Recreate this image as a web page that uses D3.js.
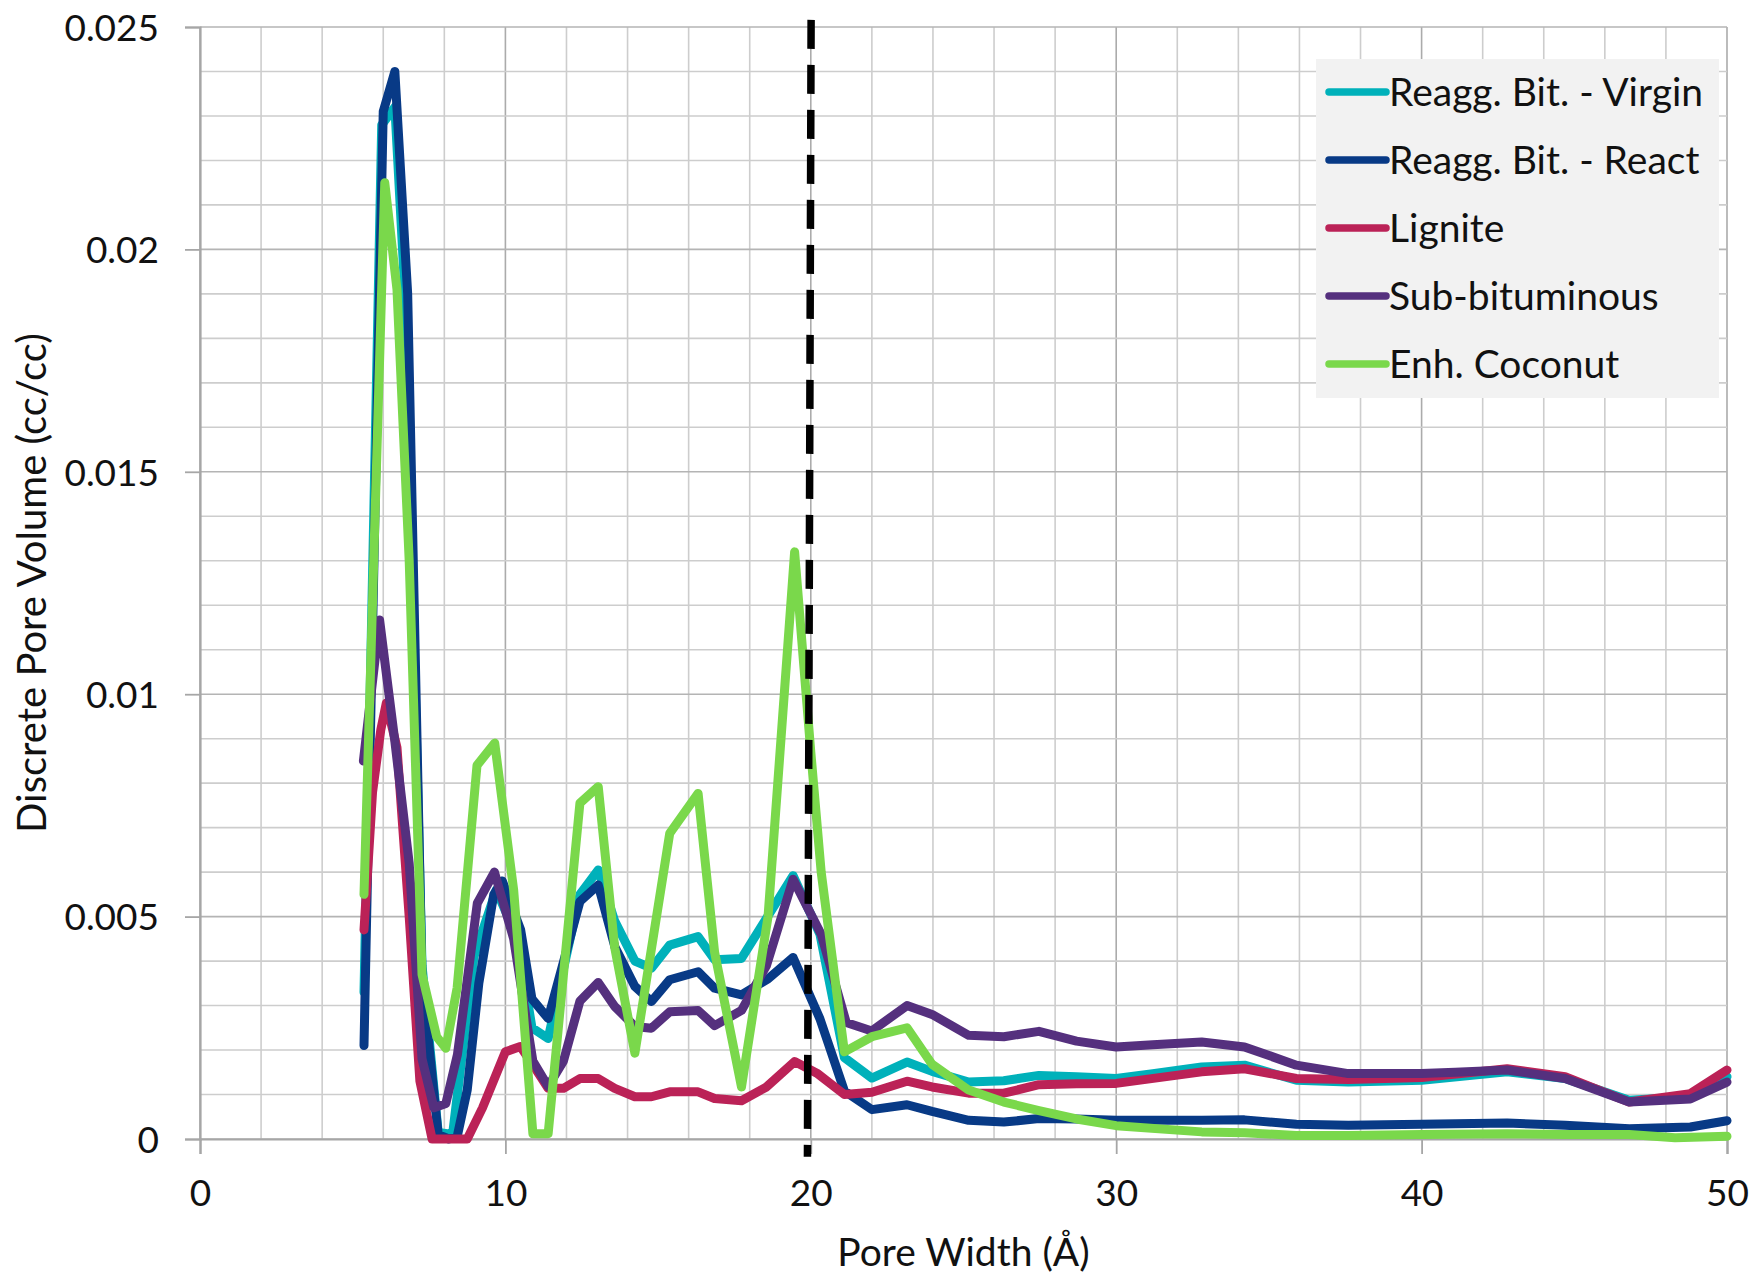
<!DOCTYPE html>
<html>
<head>
<meta charset="utf-8">
<script src="https://cdn.jsdelivr.net/npm/d3@7"></script>
<style>
  html, body { margin: 0; padding: 0; background: #ffffff; }
  svg text { font-family: Lato, "Open Sans", "Noto Sans", sans-serif; fill: #111111; }
</style>
</head>
<body>
<svg id="chart" width="1752" height="1277"></svg>
<script>
// Discrete pore volume (cc/cc) against pore width (Å), one [width, volume] pair per point.
const reaggVirgin = [
  [5.37,0.0033],[5.95,0.0228],[6.38,0.0232],[6.75,0.0185],[7.27,0.0039],[7.8,0.00015],
  [8.27,0.0001],[8.97,0.0041],[9.7,0.0056],[10.4,0.0045],[10.87,0.0025],[11.4,0.00226],
  [12.44,0.0055],[13.04,0.00605],[13.58,0.0049],[14.24,0.004],[14.78,0.00384],[15.38,0.00436],
  [16.31,0.00455],[16.85,0.00403],[17.73,0.00406],[19.42,0.00592],[20.3,0.0046],[21.1,0.00183],
  [22.0,0.00137],[23.15,0.00173],[23.97,0.00152],[25.17,0.00128],[26.32,0.00131],[27.47,0.00143],
  [28.7,0.0014],[30.0,0.00136],[31.2,0.00147],[32.8,0.00162],[34.2,0.00166],[35.9,0.00132],
  [37.6,0.00128],[40.0,0.00132],[42.8,0.00151],[44.7,0.00136],[46.8,0.00087],[48.8,0.00095],
  [50.0,0.0014]
];
const reaggReact = [
  [5.37,0.0021],[6.0,0.0231],[6.38,0.024],[6.8,0.019],[7.27,0.0036],[7.8,0.0001],
  [8.15,0.0],[8.42,0.00005],[8.75,0.0011],[9.13,0.0035],[9.62,0.0055],[9.9,0.0058],
  [10.5,0.0047],[10.87,0.00315],[11.4,0.00271],[12.44,0.00534],[13.04,0.00571],[13.58,0.00433],
  [14.24,0.00343],[14.78,0.00309],[15.38,0.00358],[16.31,0.00376],[16.85,0.00339],[17.73,0.00324],
  [18.6,0.0036],[19.42,0.00408],[20.3,0.0027],[21.1,0.00108],[22.0,0.00066],[23.15,0.00077],
  [23.97,0.00062],[25.17,0.00042],[26.32,0.00038],[27.47,0.00046],[28.7,0.00045],[30.0,0.00042],
  [32.8,0.00042],[34.2,0.00043],[35.9,0.00033],[37.6,0.00031],[40.0,0.00033],[42.8,0.00036],
  [44.7,0.00031],[46.8,0.00023],[48.8,0.00027],[50.0,0.00041]
];
const lignite = [
  [5.37,0.0047],[5.65,0.0078],[5.92,0.0092],[6.1,0.0098],[6.45,0.0088],[6.85,0.005],
  [7.2,0.0013],[7.6,0.0],[8.75,0.0],[9.25,0.0007],[10.0,0.00196],[10.49,0.00208],
  [10.87,0.0017],[11.4,0.00114],[11.9,0.00114],[12.44,0.00136],[13.04,0.00136],[13.58,0.00114],
  [14.24,0.00095],[14.78,0.00095],[15.38,0.00106],[16.31,0.00106],[16.85,0.00091],[17.73,0.00086],
  [18.55,0.00117],[19.47,0.00174],[20.2,0.00148],[21.1,0.001],[22.0,0.00105],[23.15,0.0013],
  [23.97,0.00117],[25.17,0.00103],[26.32,0.00103],[27.47,0.00122],[28.7,0.00124],[30.0,0.00125],
  [32.8,0.00151],[34.2,0.00158],[35.9,0.00136],[37.6,0.00134],[40.0,0.00138],[42.8,0.00158],
  [44.7,0.0014],[46.8,0.00083],[48.8,0.00102],[50.0,0.00155]
];
const subBituminous = [
  [5.35,0.0085],[5.88,0.01167],[6.37,0.009],[6.85,0.0062],[7.27,0.0018],[7.66,0.0007],
  [8.05,0.0008],[8.43,0.0019],[9.08,0.0053],[9.64,0.006],[10.27,0.0045],[10.9,0.00175],
  [11.4,0.00118],[11.9,0.00175],[12.44,0.0031],[13.04,0.00352],[13.58,0.00298],[14.24,0.00253],
  [14.78,0.00249],[15.38,0.00286],[16.31,0.00289],[16.85,0.00255],[17.73,0.00289],[18.55,0.0039],
  [19.42,0.00584],[20.34,0.0046],[21.16,0.00262],[22.0,0.00243],[23.15,0.003],[23.97,0.0028],
  [25.17,0.00233],[26.32,0.0023],[27.47,0.00242],[28.7,0.0022],[30.0,0.00207],[31.2,0.00212],
  [32.8,0.00218],[34.2,0.00207],[35.9,0.00166],[37.6,0.00147],[40.0,0.00147],[41.1,0.0015],
  [42.8,0.00155],[44.7,0.00136],[46.8,0.00083],[48.8,0.0009],[50.0,0.00128]
];
const enhCoconut = [
  [5.37,0.0055],[6.05,0.0215],[6.45,0.0191],[6.85,0.013],[7.27,0.0037],[7.75,0.0023],
  [8.05,0.00204],[8.42,0.0034],[9.07,0.0084],[9.65,0.0089],[10.27,0.0056],[10.9,0.00012],
  [11.4,0.00012],[12.44,0.00755],[13.04,0.00792],[13.58,0.0043],[14.24,0.00193],[15.38,0.00687],
  [16.31,0.00777],[16.85,0.0042],[17.73,0.00117],[18.6,0.005],[19.47,0.0132],[20.0,0.0087],
  [20.34,0.006],[21.1,0.00196],[22.0,0.0023],[23.15,0.0025],[23.97,0.00168],[25.17,0.0011],
  [26.32,0.00083],[27.47,0.00064],[28.7,0.00045],[30.0,0.0003],[32.8,0.00016],[34.2,0.00014],
  [35.9,0.00008],[37.6,0.00008],[40.0,0.0001],[42.8,0.00012],[44.7,0.0001],[46.8,0.0001],
  [48.3,0.00003],[50.0,0.00006]
];

const seriesNames  = ["Reagg. Bit. - Virgin", "Reagg. Bit. - React", "Lignite", "Sub-bituminous", "Enh. Coconut"];
const seriesColors = ["#00b1ba", "#083a86", "#bb2257", "#55307e", "#7ad84b"];
const seriesData   = [reaggVirgin, reaggReact, lignite, subBituminous, enhCoconut];

const xTicks = [0, 10, 20, 30, 40, 50];
const yTicks = [0, 0.005, 0.01, 0.015, 0.02, 0.025];
const xMinorStep = 2;
const yMinorStep = 0.001;

// 20 Å boundary marker: [width, volume] at its two ends
const boundaryLine = [[20.01, 0.02516], [19.89, -0.0004]];

const xTitle = "Pore Width (Å)";
const yTitle = "Discrete Pore Volume (cc/cc)";

// ---- drawing ----
const svg = d3.select("#chart");
const x = d3.scaleLinear().domain([0, 50]).range([200, 1727]);
const y = d3.scaleLinear().domain([0, 0.025]).range([1139, 27]);

// grid
const grid = svg.append("g");
const xMinor = d3.range(0, 50 + 1e-9, xMinorStep);
const yMinor = d3.range(0, 0.025 + 1e-9, yMinorStep);
grid.selectAll("line.gx").data(xMinor).join("line")
  .attr("x1", d => x(d)).attr("x2", d => x(d))
  .attr("y1", y(0)).attr("y2", y(0.025))
  .attr("stroke", d => (Math.round(d) % 10 === 0) ? "#ababab" : "#cdcdcd")
  .attr("stroke-width", 1.6);
grid.selectAll("line.gy").data(yMinor).join("line")
  .attr("x1", x(0)).attr("x2", x(50))
  .attr("y1", d => y(d)).attr("y2", d => y(d))
  .attr("stroke", d => (Math.round(d / yMinorStep) % 5 === 0) ? "#b4b4b4" : "#cdcdcd")
  .attr("stroke-width", 1.6);

// axes
const xAxis = d3.axisBottom(x).tickValues(xTicks).tickSize(15).tickPadding(26).tickFormat(d => String(d));
const yAxis = d3.axisLeft(y).tickValues(yTicks).tickSize(15).tickPadding(26).tickFormat(d => String(d));

const gx = svg.append("g").attr("transform", `translate(0,${y(0)})`).call(xAxis);
const gy = svg.append("g").attr("transform", `translate(${x(0)},0)`).call(yAxis);
[gx, gy].forEach(g => {
  g.select(".domain").attr("stroke", "#a6a6a6").attr("stroke-width", 2.2);
  g.selectAll(".tick line").attr("stroke", "#a6a6a6").attr("stroke-width", 1.8);
  g.selectAll(".tick text").attr("fill", "#111").style("font-size", "37px")
    .style("font-family", "Lato, 'Open Sans', sans-serif");
});
gy.selectAll(".tick text").attr("dy", "0.36em");
gx.selectAll(".tick text").attr("dy", "0.71em");

// series
const line = d3.line().x(d => x(d[0])).y(d => y(d[1]));
svg.append("g").selectAll("path").data(seriesData).join("path")
  .attr("d", line)
  .attr("fill", "none")
  .attr("stroke", (d, i) => seriesColors[i])
  .attr("stroke-width", 9)
  .attr("stroke-linejoin", "round")
  .attr("stroke-linecap", "round");

// dashed boundary
svg.append("path")
  .attr("d", line(boundaryLine))
  .attr("stroke", "#000")
  .attr("stroke-width", 7.5)
  .attr("stroke-dasharray", "29 16")
  .attr("fill", "none");

// axis titles
svg.append("text")
  .attr("x", (x(0) + x(50)) / 2).attr("y", 1266)
  .attr("text-anchor", "middle")
  .style("font-size", "39px")
  .text(xTitle);
svg.append("text")
  .attr("transform", `translate(46,${(y(0) + y(0.025)) / 2}) rotate(-90)`)
  .attr("text-anchor", "middle")
  .style("font-size", "40px")
  .text(yTitle);

// legend
const legend = svg.append("g");
legend.append("rect")
  .attr("x", 1316).attr("y", 59).attr("width", 403).attr("height", 339)
  .attr("fill", "#f2f2f2");
const rows = legend.selectAll("g.row").data(seriesNames).join("g")
  .attr("transform", (d, i) => `translate(1329,${92 + i * 68})`);
rows.append("line")
  .attr("x1", 0).attr("x2", 57).attr("y1", 0).attr("y2", 0)
  .attr("stroke", (d, i) => seriesColors[i])
  .attr("stroke-width", 7.5)
  .attr("stroke-linecap", "round");
rows.append("text")
  .attr("x", 60).attr("y", 14)
  .style("font-size", "39px")
  .text(d => d);
</script>
</body>
</html>
